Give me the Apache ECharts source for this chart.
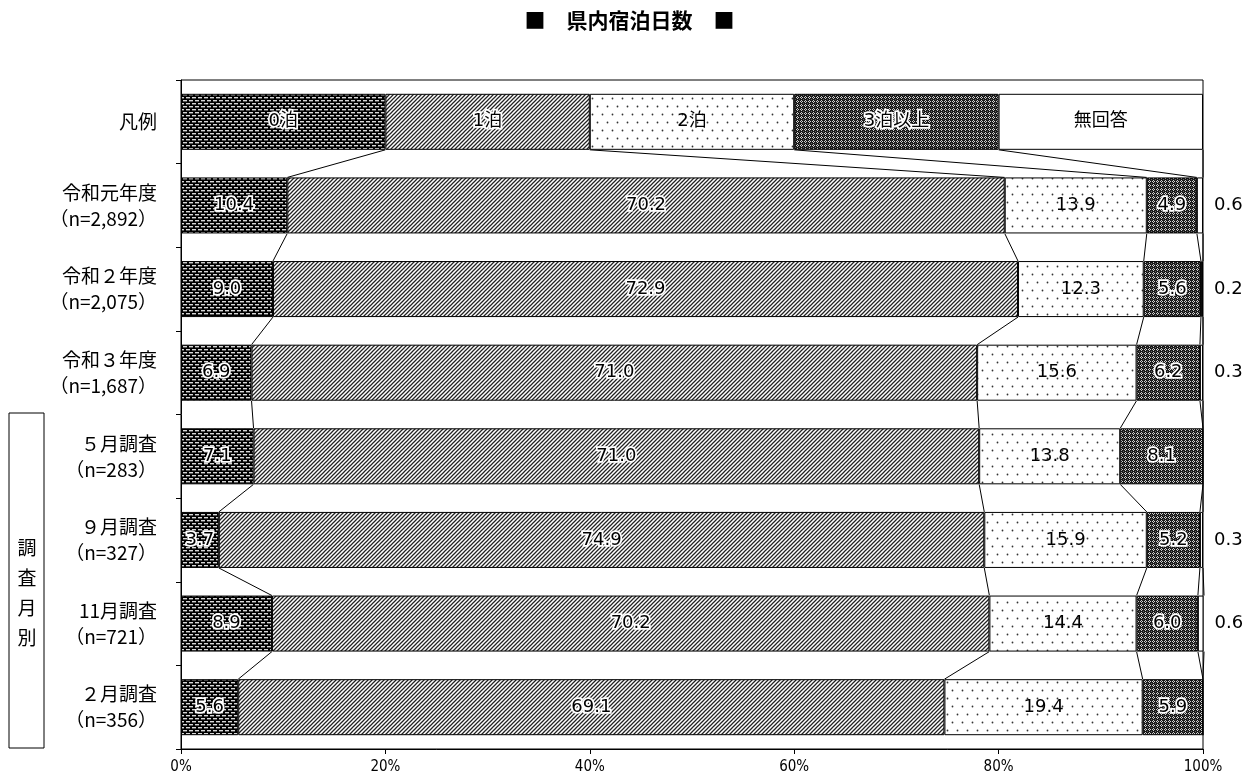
<!DOCTYPE html>
<html>
<head>
<meta charset="utf-8">
<script src="https://cdn.jsdelivr.net/npm/echarts@6/dist/echarts.min.js"></script>
<style>html,body{margin:0;padding:0;background:#fff;}#c{width:1259px;height:781px;}</style>
</head>
<body>
<div id="c"></div>
<script>
// ---- data ----
const categories = ['凡例', '令和元年度\n（n=2,892）', '令和２年度\n（n=2,075）', '令和３年度\n（n=1,687）', '５月調査\n（n=283）', '９月調査\n（n=327）', '11月調査\n（n=721）', '２月調査\n（n=356）'];
const seriesNames = ['0泊', '1泊', '2泊', '3泊以上', '無回答'];
const v0 = [20, 10.4, 9.0, 6.9, 7.1, 3.7, 8.9, 5.6];
const v1 = [20, 70.2, 72.9, 71.0, 71.0, 74.9, 70.2, 69.1];
const v2 = [20, 13.9, 12.3, 15.6, 13.8, 15.9, 14.4, 19.4];
const v3 = [20, 4.9, 5.6, 6.2, 8.1, 5.2, 6.0, 5.9];
const v4 = [20, 0.6, 0.2, 0.3, 0, 0.3, 0.6, 0];
const xTicks = [0, 20, 40, 60, 80, 100];
const groupLabel = '調\n査\n月\n別';
const titleText = '■　県内宿泊日数　■';

const values = [v0, v1, v2, v3, v4];

// ---- patterns ----
function tile(w, h, bg, draw) {
  const c = document.createElement('canvas');
  c.width = w; c.height = h;
  const ctx = c.getContext('2d');
  ctx.fillStyle = bg; ctx.fillRect(0, 0, w, h);
  draw(ctx);
  return { image: c, repeat: 'repeat' };
}
const pat0 = tile(6, 6, '#000', ctx => {
  ctx.fillStyle = '#d8d8d8';
  ctx.fillRect(0, 1, 4, 1.4);
  ctx.fillRect(3, 4, 3, 1.4);
  ctx.fillRect(0, 4, 1, 1.4);
});
const pat1 = tile(4, 4, '#fff', ctx => {
  ctx.strokeStyle = '#222'; ctx.lineWidth = 1.25;
  ctx.beginPath();
  ctx.moveTo(-1, 5); ctx.lineTo(5, -1);
  ctx.moveTo(-3, 3); ctx.lineTo(3, -3);
  ctx.moveTo(1, 7); ctx.lineTo(7, 1);
  ctx.stroke();
});
const pat2 = tile(10, 16, '#fff', ctx => {
  ctx.fillStyle = '#333';
  ctx.beginPath(); ctx.arc(2.5, 2.5, 0.9, 0, Math.PI * 2); ctx.fill();
  ctx.beginPath(); ctx.arc(7.5, 10.5, 0.9, 0, Math.PI * 2); ctx.fill();
});
const pat3 = tile(4, 4, '#1a1a1a', ctx => {
  ctx.fillStyle = '#d0d0d0';
  ctx.fillRect(1, 0, 1, 1);
  ctx.fillRect(0, 1, 1, 1);
  ctx.fillRect(2, 1, 1, 1);
  ctx.fillRect(1, 2, 1, 1);
  ctx.fillStyle = '#666';
  ctx.fillRect(3, 3, 1, 1);
});
const colors = [pat0, pat1, pat2, pat3, '#fff'];

const BAR_RATIO = 0.67;
const numFont = 'DejaVu Sans, Noto Sans CJK JP, sans-serif';
const cjkFont = 'Noto Sans CJK JP, sans-serif';

const cum = categories.map((_, i) => {
  let s = 0; const out = [];
  for (let k = 0; k < values.length; k++) { s += values[k][i]; out.push(s); }
  return out;
});

const barSeries = seriesNames.map((name, k) => {
  const data = values[k].map((v, i) => {
    const item = { value: v };
    if (k === 4 && i > 0) {
      item.label = { position: 'right', distance: 11, textBorderWidth: 0 };
    }
    return item;
  });
  const halo = !(k === 2 || k === 4);
  return {
    name: name,
    type: 'bar',
    stack: 'total',
    barCategoryGap: ((1 - BAR_RATIO) * 100) + '%',
    itemStyle: { color: colors[k], borderColor: '#000', borderWidth: 1 },
    label: {
      show: true,
      position: 'inside',
      fontSize: 18,
      fontFamily: numFont,
      color: '#000',
      textBorderColor: '#fff',
      textBorderWidth: halo ? 3.5 : 0,
      formatter: p => p.dataIndex === 0 ? p.seriesName : (p.value > 0 ? p.value.toFixed(1) : '')
    },
    emphasis: { disabled: true },
    animation: false,
    data: data
  };
});

const connector = {
  type: 'custom',
  animation: false,
  silent: true,
  z: 1,
  data: categories.slice(0, -1).map((_, i) => [0, i]),
  encode: { x: 0, y: 1 },
  renderItem: function (params, api) {
    const i = params.dataIndex;
    const half = api.size([0, 1])[1] * BAR_RATIO / 2;
    const children = [];
    for (let k = 0; k < values.length; k++) {
      const a = api.coord([cum[i][k], i]);
      const b = api.coord([cum[i + 1][k], i + 1]);
      children.push({
        type: 'line',
        shape: { x1: a[0], y1: a[1] + half, x2: b[0], y2: b[1] - half },
        style: { stroke: '#000', lineWidth: 1 }
      });
    }
    return { type: 'group', children: children };
  }
};

const chart = echarts.init(document.getElementById('c'), null, { renderer: 'canvas' });
chart.setOption({
  backgroundColor: '#fff',
  animation: false,
  title: {
    text: titleText,
    left: 'center',
    top: 5,
    textStyle: { fontSize: 21, fontWeight: 'bold', fontFamily: cjkFont, color: '#000' }
  },
  grid: {
    left: 181, right: 56, top: 80, bottom: 32,
    show: true, borderColor: '#000', borderWidth: 1, backgroundColor: 'transparent'
  },
  xAxis: {
    type: 'value',
    min: 0, max: 100, interval: 20,
    axisLine: { show: true, lineStyle: { color: '#000' } },
    axisTick: { show: true, length: 5, lineStyle: { color: '#000' } },
    splitLine: { show: false },
    axisLabel: {
      formatter: v => xTicks.indexOf(v) >= 0 ? v + '%' : '',
      fontSize: 15, color: '#000', margin: 11,
      fontFamily: 'Liberation Sans Narrow, DejaVu Sans Condensed, sans-serif'
    }
  },
  yAxis: {
    type: 'category',
    inverse: true,
    data: categories,
    axisLine: { show: true, lineStyle: { color: '#000' } },
    axisTick: { show: true, length: 5, lineStyle: { color: '#000' } },
    axisLabel: { fontSize: 19, lineHeight: 26, color: '#000', margin: 24, fontFamily: cjkFont }
  },
  graphic: [
    { type: 'rect', shape: { x: 9, y: 413, width: 35, height: 335 }, style: { fill: 'none', stroke: '#000', lineWidth: 1 } },
    { type: 'text', x: 27, y: 593, style: { text: groupLabel, fontSize: 19, lineHeight: 30, fontFamily: cjkFont, fill: '#000', align: 'center', verticalAlign: 'middle' } }
  ],
  series: barSeries.concat([connector])
});
</script>
</body>
</html>
